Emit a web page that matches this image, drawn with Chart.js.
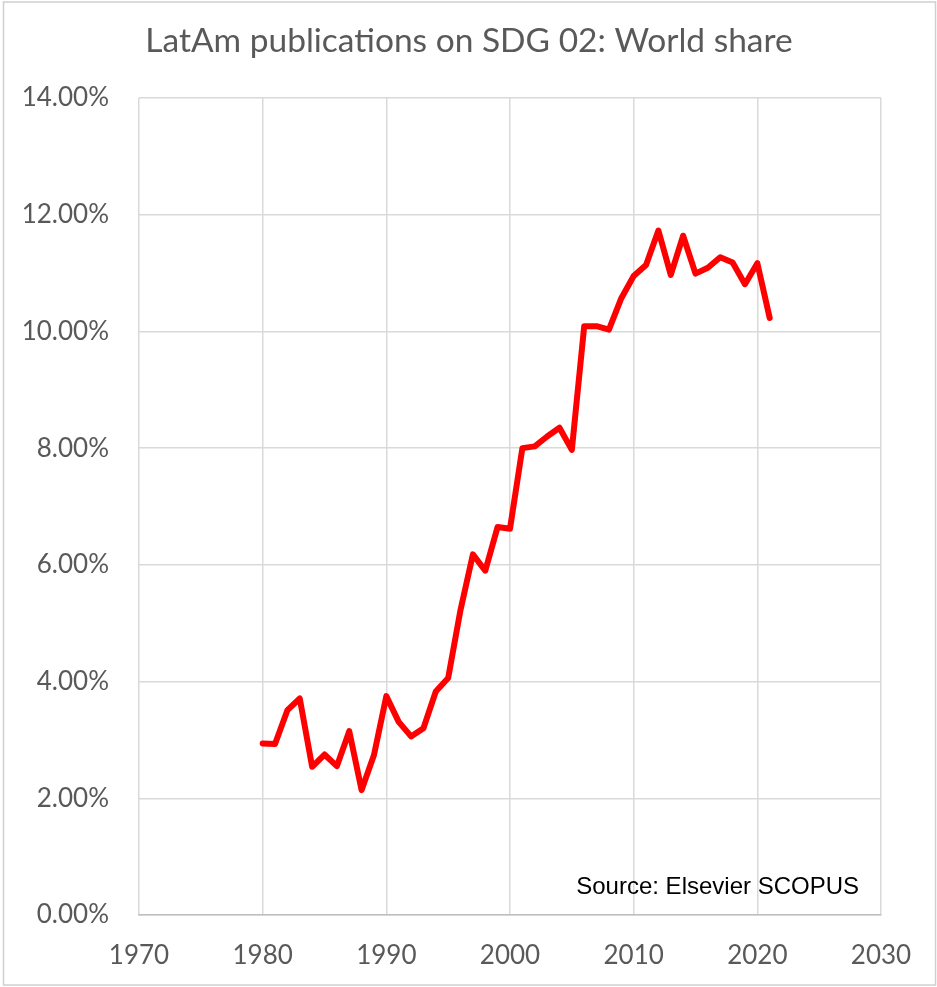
<!DOCTYPE html>
<html>
<head>
<meta charset="utf-8">
<script src="https://cdn.jsdelivr.net/npm/chart.js@4.4.1/dist/chart.umd.min.js"></script>
<style>
  html, body { margin: 0; padding: 0; background: #fff; }
  #wrap { width: 937px; height: 987px; position: relative; }
</style>
</head>
<body>
<div id="wrap"><canvas id="shareChart" width="937" height="987"></canvas></div>
<script>
// Chart data
const chartTitle = 'LatAm publications on SDG 02: World share';
const sourceNote = 'Source: Elsevier SCOPUS';
const years = [
  1980, 1981, 1982, 1983, 1984, 1985, 1986, 1987, 1988, 1989,
  1990, 1991, 1992, 1993, 1994, 1995, 1996, 1997, 1998, 1999,
  2000, 2001, 2002, 2003, 2004, 2005, 2006, 2007, 2008, 2009,
  2010, 2011, 2012, 2013, 2014, 2015, 2016, 2017, 2018, 2019,
  2020, 2021
];
const worldShare = [
  0.0294, 0.0293, 0.0351, 0.0371, 0.0254, 0.0275, 0.0255, 0.0315, 0.0214, 0.0274,
  0.0375, 0.0331, 0.0306, 0.0320, 0.0383, 0.0406, 0.0523, 0.0618, 0.0590, 0.0665,
  0.0662, 0.0800, 0.0803, 0.0820, 0.0835, 0.0797, 0.1009, 0.1009, 0.1003, 0.1057,
  0.1095, 0.1114, 0.1173, 0.1097, 0.1164, 0.1099, 0.1109, 0.1127, 0.1118, 0.1081,
  0.1117, 0.1023
];
const xMin = 1970, xMax = 2030, xStep = 10;
const yMin = 0, yMax = 0.14, yStep = 0.02;

const textGrey = '#595959';
const gridGrey = '#d9d9d9';

// Title, source note and the outer frame
const decorPlugin = {
  id: 'decor',
  afterDraw(chart) {
    const ctx = chart.ctx;
    ctx.save();
    ctx.strokeStyle = '#d0d0d0';
    ctx.lineWidth = 1.5;
    ctx.strokeRect(3.5, 2, 932, 983);

    ctx.fillStyle = textGrey;
    ctx.font = '33.5px Lato';
    ctx.textAlign = 'center';
    ctx.textBaseline = 'alphabetic';
    ctx.fillText(chartTitle, 469, 52);

    ctx.fillStyle = '#000';
    ctx.font = '24px "Liberation Sans"';
    ctx.textAlign = 'right';
    ctx.fillText(sourceNote, 859, 894);
    ctx.restore();
  }
};

document.addEventListener('DOMContentLoaded', function () {
  const canvas = document.getElementById('shareChart');
  const ctx = canvas.getContext('2d');
  const points = years.map(function (yr, i) { return { x: yr, y: worldShare[i] }; });

  new Chart(ctx, {
    type: 'line',
    data: {
      datasets: [{
        label: 'World share',
        data: points,
        borderColor: '#ff0000',
        borderWidth: 6,
        pointRadius: 0,
        tension: 0,
        fill: false,
        borderJoinStyle: 'round',
        borderCapStyle: 'round'
      }]
    },
    options: {
      responsive: false,
      animation: false,
      devicePixelRatio: 1,
      layout: { padding: { top: 98, right: 56, left: 0, bottom: 0 } },
      plugins: {
        legend: { display: false },
        title: { display: false },
        tooltip: { enabled: false }
      },
      scales: {
        x: {
          type: 'linear',
          min: xMin,
          max: xMax,
          afterFit: function (scale) { scale.height = 72; },
          afterBuildTicks: function (scale) {
            const t = [];
            for (let v = xMin; v <= xMax; v += xStep) t.push({ value: v });
            scale.ticks = t;
          },
          grid: { color: gridGrey, lineWidth: 1.5, drawTicks: false },
          border: { display: true, color: '#bfbfbf', width: 1.5 },
          ticks: {
            color: textGrey,
            font: { family: 'Lato', size: 26 },
            padding: 25,
            maxRotation: 0,
            callback: function (v) { return String(v); }
          }
        },
        y: {
          min: yMin,
          max: yMax,
          afterFit: function (scale) { scale.width = 139; },
          afterBuildTicks: function (scale) {
            const t = [];
            for (let i = 0; i <= Math.round((yMax - yMin) / yStep); i++) t.push({ value: yMin + i * yStep });
            scale.ticks = t;
          },
          grid: { color: gridGrey, lineWidth: 1.5, drawTicks: false },
          border: { display: false },
          ticks: {
            color: textGrey,
            font: { family: 'Lato', size: 26 },
            padding: 30,
            callback: function (v) { return (v * 100).toFixed(2) + '%'; }
          }
        }
      }
    },
    plugins: [decorPlugin]
  });
});
</script>
</body>
</html>
